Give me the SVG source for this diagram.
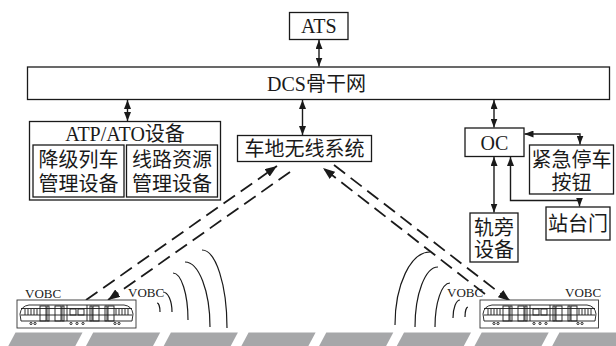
<svg xmlns="http://www.w3.org/2000/svg" width="616" height="346" viewBox="0 0 616 346">
  <style>
    .box { fill: #fff; stroke: #1a1a1a; stroke-width: 1.3; }
    .lbl { font-family: "Liberation Serif", "Noto Sans CJK SC", serif; font-size: 20px; fill: #1a1a1a; text-anchor: middle; }
    .small { font-family: "Liberation Serif", "Noto Sans CJK SC", serif; font-size: 13px; fill: #1a1a1a; }
    .link { fill: none; stroke: #1a1a1a; stroke-width: 1.4; marker-start: url(#ah); marker-end: url(#ah); }
    .radio { fill: none; stroke: #1a1a1a; stroke-width: 1.8; stroke-dasharray: 14 7; marker-end: url(#ah2); }
    .wave { fill: none; stroke: #1a1a1a; stroke-width: 1.2; }
    .frame { fill: #fff; stroke: #333; stroke-width: 0.9; }
    .car { fill: none; stroke: #1a1a1a; stroke-width: 0.9; }
    .rail { fill: #a6a7a9; }
  </style>
  <defs>
    <marker id="ah" viewBox="0 0 9 7" refX="9" refY="3.5" markerWidth="9" markerHeight="7" markerUnits="userSpaceOnUse" orient="auto-start-reverse">
      <path d="M0,0 L9,3.5 L0,7 Z" fill="#1a1a1a"/>
    </marker>
    <marker id="ah2" viewBox="0 0 12 9" refX="12" refY="4.5" markerWidth="12" markerHeight="9" markerUnits="userSpaceOnUse" orient="auto">
      <path d="M0,0 L12,4.5 L0,9 Z" fill="#1a1a1a"/>
    </marker>
    <!-- simplified light-rail vehicle, drawn in a 0..119 x 0..28 frame -->
    <g id="train">
      <path class="car" d="M4,21 L3,14 Q4,6 12,5 H107 Q115,6 116,14 L115,21 Z"/>
      <line class="car" x1="4" y1="8.5" x2="115" y2="8.5"/>
      <line class="car" x1="4" y1="15" x2="115" y2="15"/>
      <line class="car" x1="50" y1="5" x2="50" y2="21"/>
      <line class="car" x1="70" y1="5" x2="70" y2="21"/>
      <path class="car" d="M8,9 V15 M11,9 V15 M14,9 V15 M17,9 V15 M20,9 V15"/>
      <path class="car" d="M99,9 V15 M102,9 V15 M105,9 V15 M108,9 V15 M111,9 V15"/>
      <rect class="car" x="23" y="6" width="6" height="15"/>
      <rect class="car" x="30" y="6" width="2" height="15"/>
      <rect class="car" x="38" y="6" width="6" height="15"/>
      <rect class="car" x="45" y="6" width="2" height="15"/>
      <rect class="car" x="73" y="6" width="2" height="15"/>
      <rect class="car" x="76" y="6" width="6" height="15"/>
      <rect class="car" x="88" y="6" width="2" height="15"/>
      <rect class="car" x="91" y="6" width="6" height="15"/>
      <rect class="car" x="53" y="9" width="6" height="6"/>
      <rect class="car" x="61" y="9" width="6" height="6"/>
      <g class="car">
        <circle cx="14" cy="23.5" r="1.1"/><circle cx="18" cy="23.5" r="1.1"/>
        <circle cx="54" cy="23.5" r="1.1"/><circle cx="60" cy="23.5" r="1.1"/><circle cx="66" cy="23.5" r="1.1"/>
        <circle cx="98" cy="23.5" r="1.1"/><circle cx="102" cy="23.5" r="1.1"/>
      </g>
    </g>
  </defs>

  <!-- track -->
  <g id="track">
    <path class="rail" d="M15.5,332.5 h67 l-8,15 h-67 Z"/>
    <path class="rail" d="M93.2,332.5 h67 l-8,15 h-67 Z"/>
    <path class="rail" d="M170.9,332.5 h67 l-8,15 h-67 Z"/>
    <path class="rail" d="M248.6,332.5 h67 l-8,15 h-67 Z"/>
    <path class="rail" d="M326.3,332.5 h67 l-8,15 h-67 Z"/>
    <path class="rail" d="M404,332.5 h67 l-8,15 h-67 Z"/>
    <path class="rail" d="M481.7,332.5 h67 l-8,15 h-67 Z"/>
    <path class="rail" d="M559.4,332.5 h67 l-8,15 h-67 Z"/>
  </g>

  <!-- connectors -->
  <g id="connectors">
    <line class="link" x1="319" y1="40" x2="319" y2="66.5"/>
    <line class="link" x1="127.5" y1="100" x2="127.5" y2="121"/>
    <line class="link" x1="302.5" y1="100" x2="302.5" y2="135"/>
    <line class="link" x1="494" y1="100" x2="494" y2="127.5"/>
    <path class="link" d="M524.5,134 H580 V144.5"/>
    <path class="link" d="M510.5,157 V200.5 H579.5 V206.5"/>
    <line class="link" x1="494" y1="157" x2="494" y2="212.5"/>
    <!-- radio links -->
    <line class="radio" x1="86" y1="300" x2="277" y2="166"/>
    <line class="radio" x1="290" y1="172" x2="108" y2="300"/>
    <line class="radio" x1="485" y1="294" x2="323" y2="168"/>
    <line class="radio" x1="334" y1="165" x2="510" y2="301"/>
    <!-- radio waves -->
    <path class="wave" d="M157,303 A3,9 0 0 1 160,312"/>
    <path class="wave" d="M163,292 A9,20 0 0 1 172,312"/>
    <path class="wave" d="M173,273 A15,47 0 0 1 188,320"/>
    <path class="wave" d="M185,262 A25,65 0 0 1 210,327"/>
    <path class="wave" d="M202,250 A25,78 0 0 1 227,328"/>
    <path class="wave" d="M468,307 A3,10 0 0 0 465,317"/>
    <path class="wave" d="M460,300 A7,18 0 0 0 453,318"/>
    <path class="wave" d="M450,283 A15,44 0 0 0 435,327"/>
    <path class="wave" d="M438,267 A23,60 0 0 0 415,327"/>
    <path class="wave" d="M430,252 A35,73 0 0 0 395,325"/>
  </g>

  <g id="ats">
    <rect class="box" x="289.5" y="12.5" width="58.5" height="27"/>
    <text class="lbl" x="318.8" y="33">ATS</text>
  </g>

  <g id="dcs">
    <rect class="box" x="27.5" y="67" width="582" height="32.5"/>
    <text class="lbl" x="316.5" y="91">DCS骨干网</text>
  </g>

  <g id="atp-ato">
    <rect class="box" x="29.5" y="121.5" width="191" height="78.5"/>
    <text class="lbl" x="125" y="141">ATP/ATO设备</text>
    <rect class="box" x="33" y="145" width="91" height="52"/>
    <text class="lbl" x="78.5" y="167">降级列车</text>
    <text class="lbl" x="78.5" y="191">管理设备</text>
    <rect class="box" x="126.5" y="145" width="91" height="52"/>
    <text class="lbl" x="172" y="167">线路资源</text>
    <text class="lbl" x="172" y="191">管理设备</text>
  </g>

  <g id="wireless">
    <rect class="box" x="237.5" y="135.5" width="134" height="26"/>
    <text class="lbl" x="304.5" y="156">车地无线系统</text>
  </g>

  <g id="oc">
    <rect class="box" x="465" y="128" width="59" height="28.5"/>
    <text class="lbl" x="494.5" y="150">OC</text>
  </g>

  <g id="emergency-stop">
    <rect class="box" x="529.5" y="145" width="84" height="49"/>
    <text class="lbl" x="571.5" y="167">紧急停车</text>
    <text class="lbl" x="571.5" y="190">按钮</text>
  </g>

  <g id="psd">
    <rect class="box" x="546" y="207" width="64" height="33"/>
    <text class="lbl" x="578" y="231">站台门</text>
  </g>

  <g id="trackside">
    <rect class="box" x="470" y="213" width="48" height="49"/>
    <text class="lbl" x="494" y="235">轨旁</text>
    <text class="lbl" x="494" y="257">设备</text>
  </g>

  <g id="train-left">
    <rect class="frame" x="17" y="300" width="119" height="28"/>
    <use href="#train" x="17" y="300"/>
    <text class="small" x="25" y="298">VOBC</text>
    <text class="small" x="128" y="297">VOBC</text>
  </g>

  <g id="train-right">
    <rect class="frame" x="480" y="300" width="118.5" height="28"/>
    <use href="#train" x="480" y="300"/>
    <text class="small" x="447" y="297">VOBC</text>
    <text class="small" x="565" y="297">VOBC</text>
  </g>
</svg>
